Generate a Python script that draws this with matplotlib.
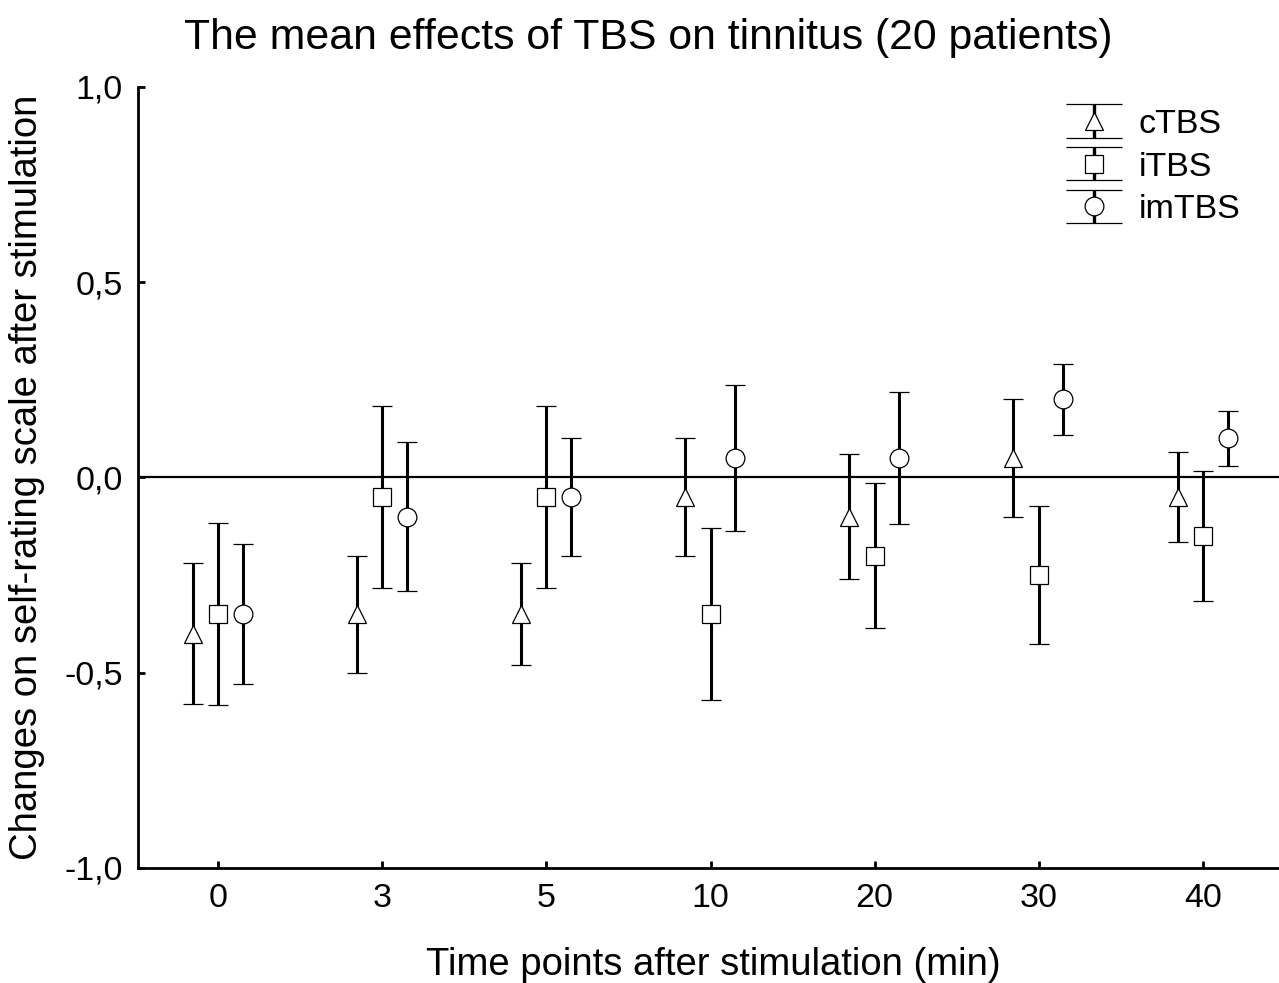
import matplotlib
matplotlib.use("Agg")
import matplotlib.pyplot as plt
from matplotlib.legend_handler import HandlerErrorbar
import numpy as np

plt.rcParams['font.family'] = ['Liberation Sans', 'DejaVu Sans']

time_points = ['0', '3', '5', '10', '20', '30', '40']
series_names = ['cTBS', 'iTBS', 'imTBS']
series_markers = ['^', 's', 'o']

ctbs_mean = [-0.40, -0.35, -0.35, -0.05, -0.10, 0.05, -0.05]
ctbs_err = [0.18, 0.15, 0.13, 0.15, 0.16, 0.15, 0.115]

itbs_mean = [-0.35, -0.05, -0.05, -0.35, -0.20, -0.25, -0.15]
itbs_err = [0.233, 0.234, 0.234, 0.22, 0.185, 0.177, 0.167]

imtbs_mean = [-0.35, -0.10, -0.05, 0.05, 0.05, 0.20, 0.10]
imtbs_err = [0.18, 0.19, 0.15, 0.187, 0.17, 0.09, 0.07]

y_ticks = [1.0, 0.5, 0.0, -0.5, -1.0]
y_tick_labels = ['1,0', '0,5', '0,0', '-0,5', '-1,0']

means = [ctbs_mean, itbs_mean, imtbs_mean]
errs = [ctbs_err, itbs_err, imtbs_err]
offsets = [-0.155, 0.0, 0.15]

fig = plt.figure(figsize=(12.79, 9.83), dpi=100)
ax = fig.add_axes([0.108, 0.117, 0.892, 0.7945])

x = np.arange(len(time_points))
ax.axhline(0, color='black', lw=1.6, zorder=1)

handles = []
for m, e, mk, off, name in zip(means, errs, series_markers, offsets, series_names):
    ax.errorbar(x + off, m, yerr=e, fmt=mk, ms=13.5, mfc='white', mec='black',
                mew=0.9, ecolor='black', elinewidth=2.2, capsize=7, capthick=2.2,
                zorder=3)
    # proxy with wider caps for the legend
    h = ax.errorbar([np.nan], [np.nan], yerr=[0.1], fmt=mk, ms=13.5, mfc='white',
                    mec='black', mew=0.9, ecolor='black', elinewidth=2.4,
                    capsize=20.5, capthick=2.4, label=name)
    handles.append(h)

ax.set_xlim(-0.487, 6.463)
ax.set_ylim(-1.0, 1.0)
ax.set_xticks(x)
ax.set_xticklabels(time_points)
ax.set_yticks(y_ticks)
ax.set_yticklabels(y_tick_labels)

for s in ['top', 'right']:
    ax.spines[s].set_visible(False)
for s in ['left', 'bottom']:
    ax.spines[s].set_linewidth(2)
ax.tick_params(direction='in', length=5, width=2, labelsize=24.5, pad=11)

ax.set_xlabel('Time points after stimulation (min)', fontsize=27.5)
ax.xaxis.set_label_coords(0.5045, -0.101)
ax.set_ylabel('Changes on self-rating scale after stimulation', fontsize=27.5, labelpad=14)
fig.text(0.507, 0.961, 'The mean effects of TBS on tinnitus (20 patients)',
         fontsize=30.8, ha='center', va='center')

ax.legend(handles=handles, labels=series_names, loc='upper right',
          bbox_to_anchor=(0.993, 1.011), frameon=False, fontsize=24.5,
          handlelength=1.65, handletextpad=0.5, labelspacing=0.34,
          borderaxespad=0.5,
          handler_map={type(handles[0]): HandlerErrorbar(xerr_size=0.4, yerr_size=0.49)})

fig.savefig('out.png', dpi=100)
